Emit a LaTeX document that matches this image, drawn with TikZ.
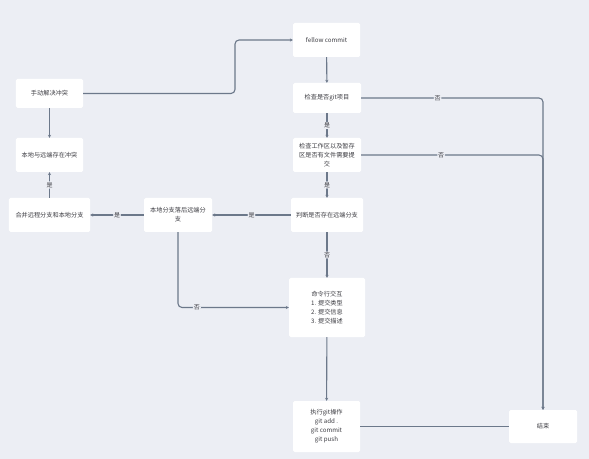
\documentclass[tikz,border=0pt]{standalone}
\usepackage{fontspec}
\newfontfamily\cjk{Noto Sans CJK SC}
\usepackage{tikz}
\usetikzlibrary{arrows.meta}
\usepackage{xcolor}
\definecolor{canvasgray}{RGB}{236,238,244}
\definecolor{flowline}{RGB}{108,120,138}
\definecolor{boxtext}{RGB}{60,60,66}

\begin{document}
\begin{tikzpicture}[x=1bp,y=-1bp]
  \tikzset{
    stepbox/.style={fill=white,rounded corners=1.5bp,inner sep=0pt,align=center,
      text=boxtext,font=\cjk\fontsize{6.2}{9}\selectfont},
    flow/.style={draw=flowline,line width=1.1bp,rounded corners=4bp,-{Stealth[length=3bp,width=3.2bp]}},
    link/.style={draw=flowline,line width=1.1bp,rounded corners=4bp},
    tag/.style={fill=canvasgray,inner sep=1bp,text=boxtext,font=\cjk\fontsize{6}{7}\selectfont},
  }
  \fill[canvasgray] (0,0) rectangle (589,459);
  \useasboundingbox (0,0) rectangle (589,459);

  % main column
  \node[stepbox,minimum width=67bp,minimum height=34bp] (fellow) at (326.5,40) {fellow commit};
  \node[stepbox,minimum width=68bp,minimum height=30bp] (isgit) at (327,98) {检查是否git项目};
  \node[stepbox,minimum width=68bp,minimum height=34bp] (staged) at (327,155) {检查工作区以及暂存\\区是否有文件需要提\\交};
  \node[stepbox,minimum width=72bp,minimum height=34bp] (remote) at (327,215) {判断是否存在远端分支};
  \node[stepbox,minimum width=76bp,minimum height=59bp] (cli) at (327,307.5) {命令行交互\\1. 提交类型\\2. 提交信息\\3. 提交描述};
  \node[stepbox,minimum width=67bp,minimum height=51bp] (exec) at (326.5,426.5) {执行git操作\\git add .\\git commit\\git push};
  \node[stepbox,minimum width=68bp,minimum height=33bp] (finish) at (543,426.5) {结束};

  % left side
  \node[stepbox,minimum width=67bp,minimum height=29bp] (manual) at (49.5,93.5) {手动解决冲突};
  \node[stepbox,minimum width=67bp,minimum height=34bp] (conflict) at (49.5,155) {本地与远端存在冲突};
  \node[stepbox,minimum width=81bp,minimum height=34bp] (merge) at (49.5,215) {合并远程分支和本地分支};
  \node[stepbox,minimum width=68bp,minimum height=34bp] (behind) at (178,215) {本地分支落后远端分\\支};

  \coordinate (bend) at (235,40);

  \draw[flow] (fellow) -- (isgit);
  \draw[flow] (isgit) -- node[tag] {是} (staged);
  \draw[flow] (staged) -- node[tag] {是} (remote);
  \draw[flow] (remote) -- node[tag] {否} (cli);
  \draw[flow] (cli) -- (exec);
  \draw[link] (exec) -- (finish);
  \draw[flow] (isgit.east) -| node[tag,pos=0.21] {否} (finish.north);
  \draw[flow] (staged.east) -| node[tag,pos=0.22] {否} (finish.north);

  \draw[flow] (remote) -- node[tag] {是} (behind);
  \draw[flow] (behind) -- node[tag] {是} (merge);
  \draw[flow] (merge) -- node[tag] {是} (conflict);
  \draw[flow] (manual) -- (conflict);
  \draw[flow] (behind.south) |- node[tag,pos=0.585] {否} (cli.west);
  \draw[flow] (manual.east) -| (bend) -- (fellow.west);
\end{tikzpicture}
\end{document}
